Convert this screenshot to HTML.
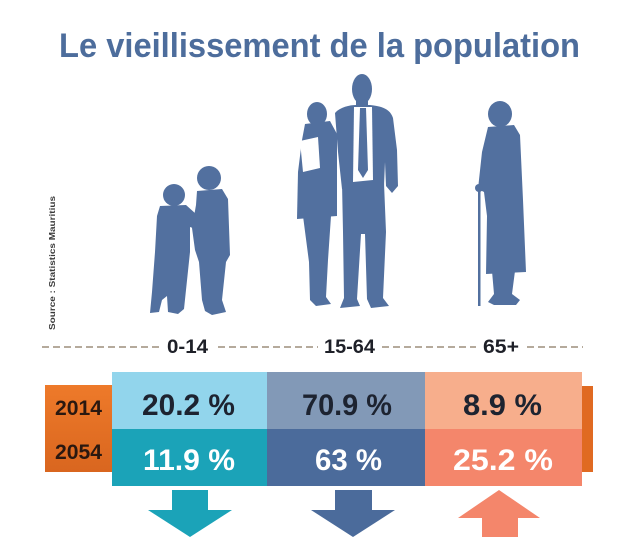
<!DOCTYPE html>
<html>
<head>
<meta charset="utf-8">
<style>
  html,body{margin:0;padding:0;background:#ffffff;}
  svg{display:block;}
  text{font-family:"Liberation Sans", Arial, sans-serif;font-weight:bold;}
</style>
</head>
<body>
<svg width="620" height="560" viewBox="0 0 620 560" xmlns="http://www.w3.org/2000/svg">
  <rect x="0" y="0" width="620" height="560" fill="#ffffff"/>

  <!-- Title -->
  <text x="59" y="57" font-size="34" fill="#4d6d9c" textLength="521" lengthAdjust="spacingAndGlyphs">Le vieillissement de la population</text>

  <!-- Source (vertical) -->
  <text transform="translate(55,330) rotate(-90)" x="0" y="0" font-size="8.5" fill="#3a3a3a" textLength="134" lengthAdjust="spacingAndGlyphs">Source : Statistics Mauritius</text>

  <g fill="#52709f">
    <!-- Left child -->
    <circle cx="174" cy="195" r="11"/>
    <path d="M160,206 L186,205 L196,214 L205,221 L201,231 L190,227 L190,252 L186,290 L184,309 L178,314 L168,312 L167,296 L162,300 L159,312 L150,313 L152,292 L155,252 L157,216 Z"/>
    <!-- Right child -->
    <circle cx="209" cy="178" r="12"/>
    <path d="M197,191 L222,189 L228,199 L230,255 L226,262 L222,300 L226,312 L212,315 L205,311 L202,300 L199,262 L195,250 L192,228 L196,205 Z"/>

    <!-- Woman -->
    <ellipse cx="317" cy="114" rx="10" ry="12"/>
    <path d="M305,124 L330,121 L337,134 L337,216 L297,219 L298,172 L302,140 Z"/>
    <path d="M303,216 L331,216 L328,260 L326,297 L331,304 L316,306 L310,300 L309,262 Z"/>

    <!-- Man -->
    <ellipse cx="362" cy="89" rx="10" ry="15"/>
    <rect x="356" y="100" width="12" height="10"/>
    <path d="M335,113 C340,107 350,105 356,105 L370,105 C380,106 390,108 393,118 L397,150 L398,186 L392,193 L386,186 L385,162 L384,186 L342,189 L338,152 Z"/>
    <path d="M342,183 L384,183 L386,232 L383,298 L389,306 L371,308 L367,299 L365,234 L361,234 L357,299 L360,306 L340,308 L344,298 L343,232 Z"/>

    <!-- Elderly woman -->
    <ellipse cx="500" cy="114" rx="12" ry="13"/>
    <path d="M488,127 L514,125 L520,135 L523,200 L526,272 L486,274 L487,216 L484,192 L478,189 L482,152 Z"/>
    <path d="M492,271 L515,271 L512,294 L520,300 L516,305 L494,305 L488,302 L494,294 Z"/>
    <circle cx="479" cy="188" r="4"/>
    <rect x="478" y="188" width="2.5" height="118"/>
  </g>

  <!-- White details -->
  <path d="M354,107 L372,107 L373,180 L353,182 Z" fill="#ffffff"/>
  <path d="M360,108 L366,108 L368,170 L363,178 L358,170 Z" fill="#52709f"/>
  <path d="M300,141 L318,137 L320,168 L303,172 Z" fill="#ffffff"/>

  <!-- Dashed line -->
  <g stroke="#b5aa9c" stroke-width="2" stroke-dasharray="7,4">
    <line x1="42" y1="347" x2="160" y2="347"/>
    <line x1="218" y1="347" x2="318" y2="347"/>
    <line x1="382" y1="347" x2="476" y2="347"/>
    <line x1="527" y1="347" x2="583" y2="347"/>
  </g>
  <text x="167" y="353" font-size="19" fill="#1e2028" textLength="41" lengthAdjust="spacingAndGlyphs">0-14</text>
  <text x="324" y="353" font-size="19" fill="#1e2028" textLength="51" lengthAdjust="spacingAndGlyphs">15-64</text>
  <text x="483" y="353" font-size="19" fill="#1e2028" textLength="36" lengthAdjust="spacingAndGlyphs">65+</text>

  <!-- Orange year box -->
  <defs>
    <linearGradient id="og" x1="0" y1="0" x2="0" y2="1">
      <stop offset="0" stop-color="#ee7a2a"/>
      <stop offset="1" stop-color="#d9661f"/>
    </linearGradient>
  </defs>
  <rect x="45" y="385" width="68" height="87" fill="url(#og)"/>
  <rect x="582" y="386" width="11" height="86" fill="#e06a22"/>

  <!-- Table -->
  <rect x="112" y="372" width="155" height="57" fill="#92d5ec"/>
  <rect x="267" y="372" width="158" height="57" fill="#8299b7"/>
  <rect x="425" y="372" width="157" height="57" fill="#f7ae8c"/>
  <rect x="112" y="429" width="155" height="57" fill="#1ba3b8"/>
  <rect x="267" y="429" width="158" height="57" fill="#4b6b9b"/>
  <rect x="425" y="429" width="157" height="57" fill="#f4866b"/>

  <text x="55" y="415" font-size="21" fill="#2a1810" textLength="47" lengthAdjust="spacingAndGlyphs">2014</text>
  <text x="55" y="459" font-size="21" fill="#2a1810" textLength="47" lengthAdjust="spacingAndGlyphs">2054</text>

  <text x="142" y="415" font-size="30" fill="#1d2330" textLength="93" lengthAdjust="spacingAndGlyphs">20.2 %</text>
  <text x="302" y="415" font-size="30" fill="#1d2330" textLength="90" lengthAdjust="spacingAndGlyphs">70.9 %</text>
  <text x="463" y="415" font-size="30" fill="#1d2330" textLength="79" lengthAdjust="spacingAndGlyphs">8.9 %</text>

  <text x="143" y="470" font-size="30" fill="#ffffff" textLength="92" lengthAdjust="spacingAndGlyphs">11.9 %</text>
  <text x="315" y="470" font-size="30" fill="#ffffff" textLength="67" lengthAdjust="spacingAndGlyphs">63 %</text>
  <text x="453" y="470" font-size="30" fill="#ffffff" textLength="100" lengthAdjust="spacingAndGlyphs">25.2  %</text>

  <!-- Arrows -->
  <path d="M172,490 L208,490 L208,510 L232,510 L190,537 L148,510 L172,510 Z" fill="#1ba3b8"/>
  <path d="M335,490 L372,490 L372,510 L395,510 L353,537 L311,510 L335,510 Z" fill="#4b6b9b"/>
  <path d="M499,490 L540,518 L518,518 L518,537 L482,537 L482,518 L458,518 Z" fill="#f4866b"/>
</svg>
</body>
</html>
